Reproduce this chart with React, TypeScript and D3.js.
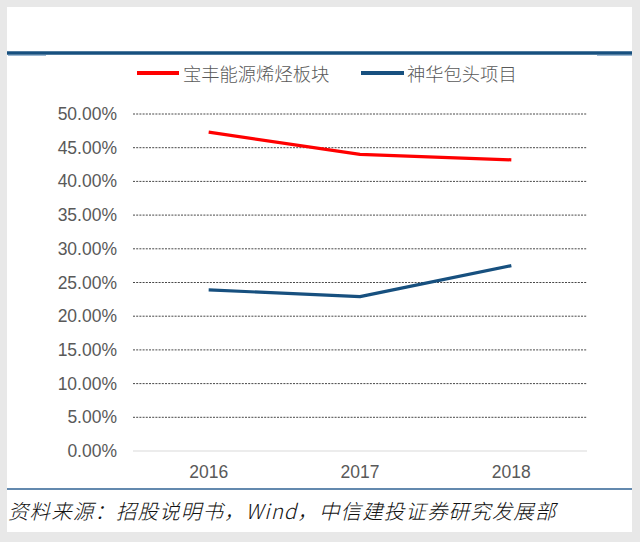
import * as React from "react";
import * as d3 from "d3";

const years = ["2016", "2017", "2018"];
const baofengValues = [0.473, 0.44, 0.432];
const shenhuaValues = [0.239, 0.229, 0.275];
const yTicks = [0, 0.05, 0.1, 0.15, 0.2, 0.25, 0.3, 0.35, 0.4, 0.45, 0.5];

const seriesNames = ["宝丰能源烯烃板块", "神华包头项目"];
const seriesColors = ["#ff0000", "#17507f"];
const sourceText = "资料来源：招股说明书，Wind，中信建投证券研究发展部";

const width = 640;
const height = 542;

export default function App() {
  React.useLayoutEffect(() => {
    document.body.style.margin = "0";
  }, []);

  const xScale = d3.scaleBand<string>().domain(years).range([133, 587]);
  const yScale = d3.scaleLinear().domain([0, 0.5]).range([451, 114]);
  const cx = (d: string) => (xScale(d) ?? 0) + xScale.bandwidth() / 2;

  const line = d3
    .line<number>()
    .x((_, i) => cx(years[i]))
    .y((v) => yScale(v));

  const fmt = d3.format(".2%");
  const series = [baofengValues, shenhuaValues];

  return (
    <svg width={width} height={height} style={{ display: "block" }}>
      <rect x={0} y={0} width={width} height={height} fill="#e8e8e8" />
      <rect x={7} y={7} width={625} height={525} fill="#ffffff" />

      {/* header rule */}
      <line x1={7} x2={632} y1={53} y2={53} stroke="#17507f" strokeWidth={3.5} />
      <line x1={8} x2={46} y1={55.5} y2={55.5} stroke="#9bb8d3" strokeWidth={1} />
      <line x1={597} x2={632} y1={55.5} y2={55.5} stroke="#9bb8d3" strokeWidth={1} />

      {/* legend */}
      <g fontFamily="'Noto Sans CJK SC', sans-serif" fontSize={18.3} fontWeight={300} fill="#595959">
        <line x1={137} x2={179} y1={73} y2={73} stroke={seriesColors[0]} strokeWidth={4} />
        <text x={183} y={73} dominantBaseline="central">{seriesNames[0]}</text>
        <line x1={361} x2={404} y1={73} y2={73} stroke={seriesColors[1]} strokeWidth={4} />
        <text x={407} y={73} dominantBaseline="central">{seriesNames[1]}</text>
      </g>

      {/* grid and y labels */}
      <g fontFamily="'Liberation Sans', Arial, sans-serif" fontSize={17.5} fill="#595959">
        {yTicks.map((t) => (
          <g key={t}>
            <line
              x1={133}
              x2={587}
              y1={yScale(t)}
              y2={yScale(t)}
              stroke={t === 0 ? "#d9d9d9" : "#333"}
              strokeWidth={t === 0 ? 1.2 : 0.9}
              strokeDasharray={t === 0 ? undefined : "2,1.2"}
            />
            <text x={117} y={yScale(t)} textAnchor="end" dominantBaseline="central">
              {fmt(t)}
            </text>
          </g>
        ))}
        {years.map((y) => (
          <text key={y} x={cx(y)} y={472} textAnchor="middle" dominantBaseline="central">
            {y}
          </text>
        ))}
      </g>

      {/* series */}
      {series.map((s, i) => (
        <path
          key={i}
          d={line(s) ?? ""}
          fill="none"
          stroke={seriesColors[i]}
          strokeWidth={3.2}
          strokeLinejoin="round"
        />
      ))}

      {/* footer */}
      <line x1={7} x2={632} y1={489} y2={489} stroke="#2f6293" strokeWidth={1.5} />
      <text
        x={8}
        y={519}
        fontFamily="'Noto Sans CJK SC', sans-serif"
        fontSize={20.5}
        fontWeight={300}
        fontStyle="italic"
        letterSpacing={1.1}
        fill="#111"
      >
        {sourceText}
      </text>
    </svg>
  );
}
